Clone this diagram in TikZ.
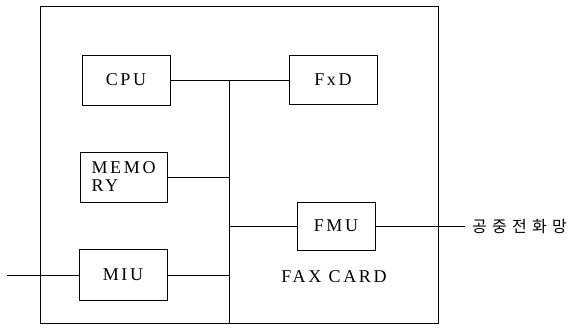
\documentclass[tikz,border=0pt]{standalone}
\usepackage{fontspec}
\setmainfont{Liberation Serif}
\newfontfamily\krfont{Noto Sans CJK KR}
\begin{document}
\begin{tikzpicture}[x=1pt,y=-1pt,
  blk/.style={draw,line width=1pt,inner sep=0pt,font=\fontsize{18}{18}\selectfont\addfontfeature{LetterSpace=15}},
  wire/.style={line width=0.8pt},
  lbl/.style={font=\fontsize{18}{18}\selectfont\addfontfeature{LetterSpace=15}}]
\useasboundingbox (0,0) rectangle (570,327);
\draw[wire] (40,6) rectangle (438,323);
\node[blk,minimum width=88pt,minimum height=50pt] (cpu) at (126,80) {CPU};
\node[blk,minimum width=88pt,minimum height=49pt] (fxd) at (333,80) {FxD};
\node[blk,minimum height=50pt,align=left,text width=65pt,inner xsep=11pt] (mem) at (124,177) {MEMO\\RY};
\node[blk,minimum width=88pt,minimum height=51pt] (miu) at (123,275) {MIU};
\node[blk,minimum width=78pt,minimum height=48pt] (fmu) at (336,226) {FMU};
\node[lbl] (fax) at (334,277) {FAX CARD};
\node[anchor=west,inner sep=0pt,font=\krfont\fontsize{16}{16}\selectfont\addfontfeature{LetterSpace=33}] (pstn) at (472,227) {공중전화망};
\coordinate (btop) at (229,80);
\coordinate (bbot) at (229,323);
\coordinate (inl) at (7,275);
\coordinate (outr) at (465,226);
\draw[wire] (btop) -- (bbot);
\draw[wire] (cpu.east) -- (fxd.west);
\draw[wire] (mem.east) -- (mem.east -| btop);
\draw[wire] (miu.east) -- (miu.east -| btop);
\draw[wire] (fmu.west -| btop) -- (fmu.west);
\draw[wire] (inl) -- (miu.west);
\draw[wire] (fmu.east) -- (outr);
\end{tikzpicture}
\end{document}
